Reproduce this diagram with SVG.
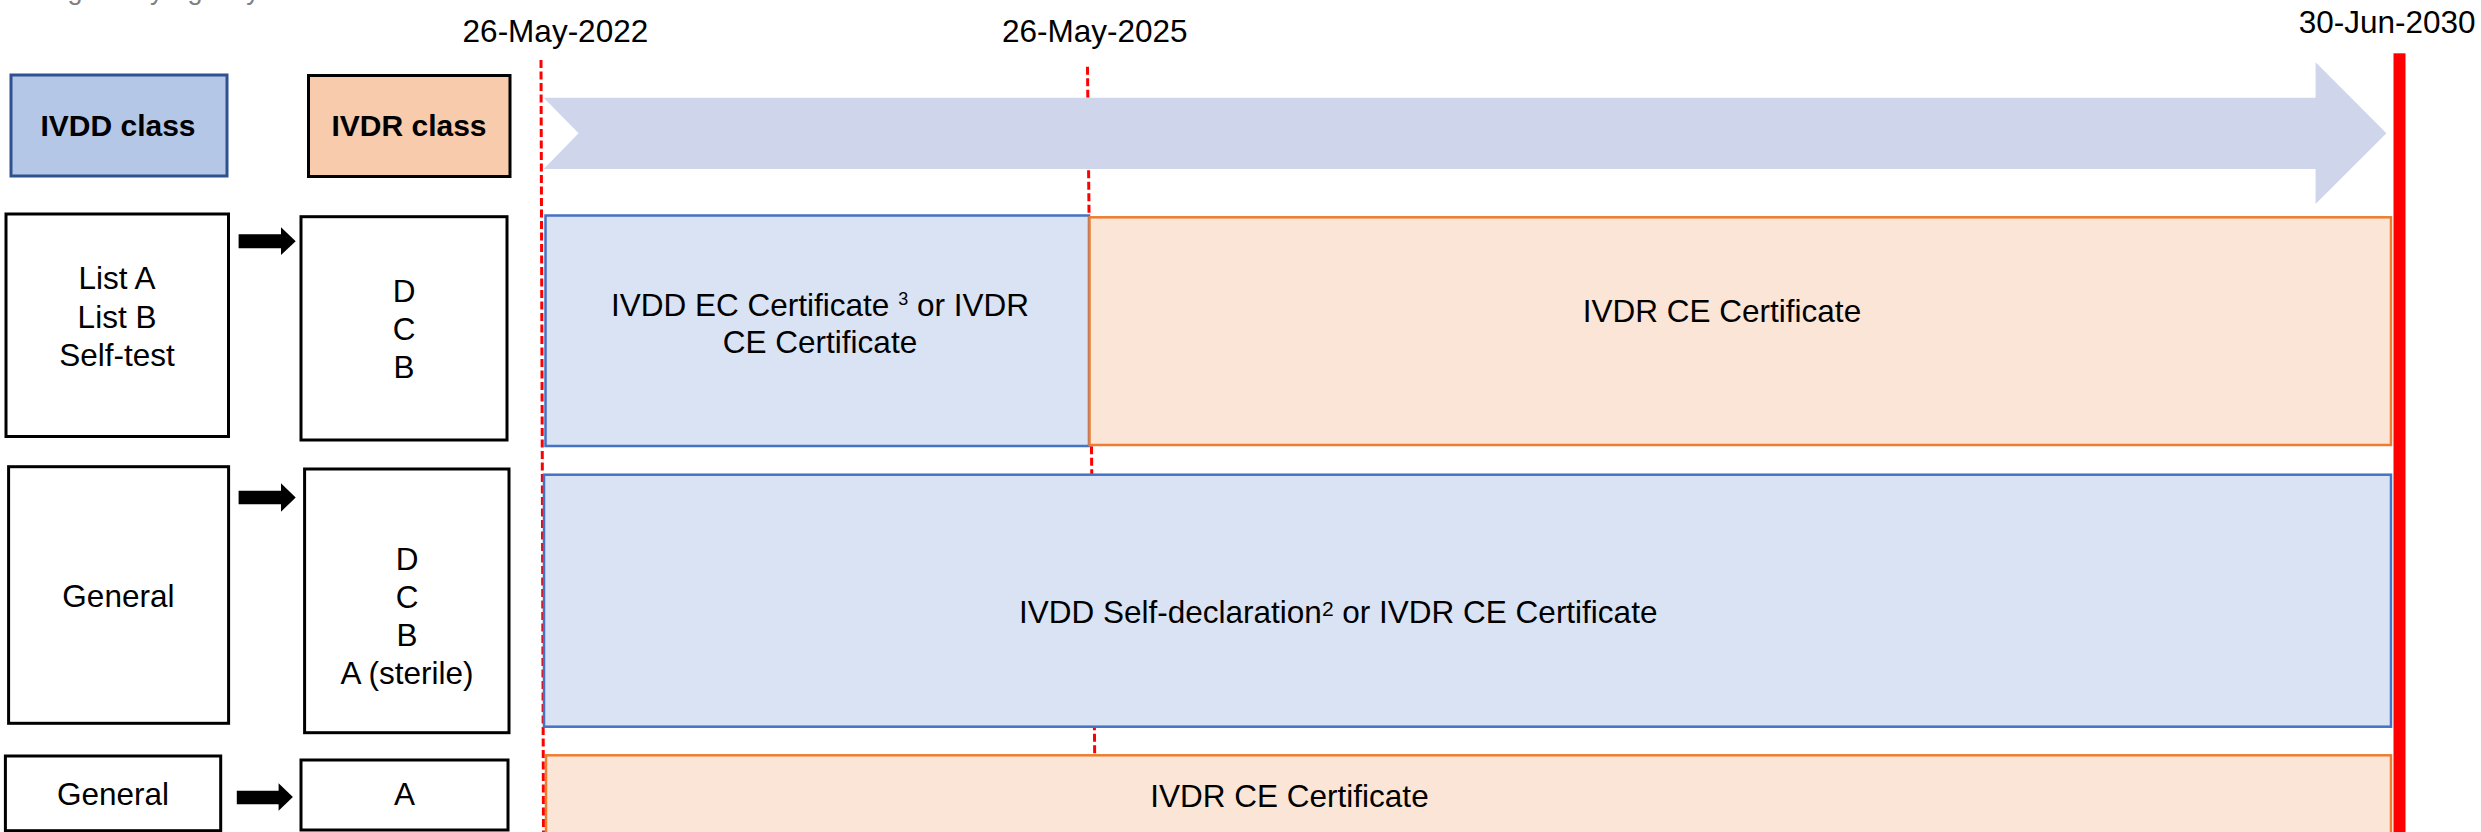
<svg xmlns="http://www.w3.org/2000/svg" width="2481" height="832" viewBox="0 0 2481 832">
<style>
text{font-family:"Liberation Sans",Arial,sans-serif;fill:#000}
.t{font-size:31.5px}
.d{font-size:31.5px}
.g{font-size:27px;fill:#808080}
.h{font-size:30px;font-weight:bold}
.wb{fill:#fff;stroke:#000;stroke-width:3}
.blue{fill:#DAE3F3;stroke:#4472C4;stroke-width:2.5}
.orange{fill:#FBE5D6;stroke:#ED7D31;stroke-width:2.5}
.dash{stroke:#FF0000;stroke-width:3;stroke-dasharray:8 3.5;fill:none}
.arr{fill:#000}
</style>
<rect width="2481" height="832" fill="#fff"/>
<text x="33" y="-1" class="g">Regulatory Agency</text>

<g id="timeline">
  <line class="dash" x1="541" y1="60" x2="543.5" y2="832"/>
  <line class="dash" x1="1087.5" y1="66.7" x2="1095.5" y2="832"/>
  <polygon id="time-arrow" fill="#CFD5EA" points="543.7,97.7 2315.6,97.7 2315.6,62.3 2386.4,133.3 2315.6,204 2315.6,169 543.7,169 578.6,133.3"/>
  <rect x="2393.5" y="53.3" width="12" height="780" fill="#FF0000"/>
  <text x="462.6" y="41.7" class="d">26-May-2022</text>
  <text x="1002" y="41.7" class="d">26-May-2025</text>
  <text x="2298.7" y="33.3" class="d">30-Jun-2030</text>
</g>

<g id="hdr-ivdd">
  <rect x="11" y="75" width="216" height="101" fill="#B4C7E7" stroke="#2F528F" stroke-width="3"/>
  <text x="118" y="136" class="h" text-anchor="middle">IVDD class</text>
</g>
<g id="hdr-ivdr">
  <rect x="308.5" y="75.5" width="201.5" height="101" fill="#F8CBAD" stroke="#000" stroke-width="3"/>
  <text x="409" y="136" class="h" text-anchor="middle">IVDR class</text>
</g>

<g id="ivdd-row1">
  <rect class="wb" x="6" y="214" width="222.5" height="222.5"/>
  <text class="t" text-anchor="middle" x="117"><tspan x="117" y="289.3">List A</tspan><tspan x="117" y="327.5">List B</tspan><tspan x="117" y="365.7">Self-test</tspan></text>
</g>
<g id="ivdr-row1">
  <rect class="wb" x="301" y="216.7" width="206" height="223.3"/>
  <text class="t" text-anchor="middle"><tspan x="404" y="301.5">D</tspan><tspan x="404" y="339.7">C</tspan><tspan x="404" y="378">B</tspan></text>
</g>

<g id="ivdd-row2">
  <rect class="wb" x="8.6" y="466.7" width="220" height="256.6"/>
  <text class="t" text-anchor="middle" x="118.4" y="606.7">General</text>
</g>
<g id="ivdr-row2">
  <rect class="wb" x="304.6" y="469" width="204.4" height="263.7"/>
  <text class="t" text-anchor="middle"><tspan x="407" y="569.7">D</tspan><tspan x="407" y="607.7">C</tspan><tspan x="407" y="645.5">B</tspan><tspan x="407" y="683.7">A (sterile)</tspan></text>
</g>

<g id="ivdd-row3">
  <rect class="wb" x="5.4" y="756" width="215.3" height="74.7"/>
  <text class="t" text-anchor="middle" x="113" y="805">General</text>
</g>
<g id="ivdr-row3">
  <rect class="wb" x="301" y="760" width="207" height="70"/>
  <text class="t" text-anchor="middle" x="404.6" y="805">A</text>
</g>

<g id="connectors">
  <polygon class="arr" points="238.6,234.3 281,234.3 281,227.3 295.7,241.3 281,255 281,248.3 238.6,248.3"/>
  <polygon class="arr" points="238.6,490.7 281,490.7 281,483.3 295.7,497.5 281,511.7 281,504.3 238.6,504.3"/>
  <polygon class="arr" points="236.8,790.7 278.6,790.7 278.6,783.3 292.9,797 278.6,810.7 278.6,804.3 236.8,804.3"/>
</g>

<g id="cert-row1-ivdd">
  <rect class="blue" x="545.5" y="215.5" width="543.5" height="230.5"/>
  <text class="t" text-anchor="middle"><tspan x="820" y="315.7">IVDD EC Certificate <tspan font-size="18" dy="-11">3</tspan><tspan dy="11"> or IVDR</tspan></tspan><tspan x="820" y="353.3">CE Certificate</tspan></text>
</g>
<g id="cert-row1-ivdr">
  <rect class="orange" x="1089.5" y="217.3" width="1301.5" height="227.7"/>
  <text class="t" text-anchor="middle" x="1722" y="321.7">IVDR CE Certificate</text>
</g>
<g id="cert-row2">
  <rect class="blue" x="544" y="474.7" width="1847" height="252"/>
  <text class="t" x="1019" y="623.3">IVDD Self-declaration<tspan font-size="21" dy="-7">2</tspan><tspan dy="7"> or IVDR CE Certificate</tspan></text>
</g>
<g id="cert-row3">
  <rect class="orange" x="546" y="755.3" width="1845" height="90"/>
  <text class="t" text-anchor="middle" x="1289.5" y="806.7">IVDR CE Certificate</text>
</g>
</svg>
